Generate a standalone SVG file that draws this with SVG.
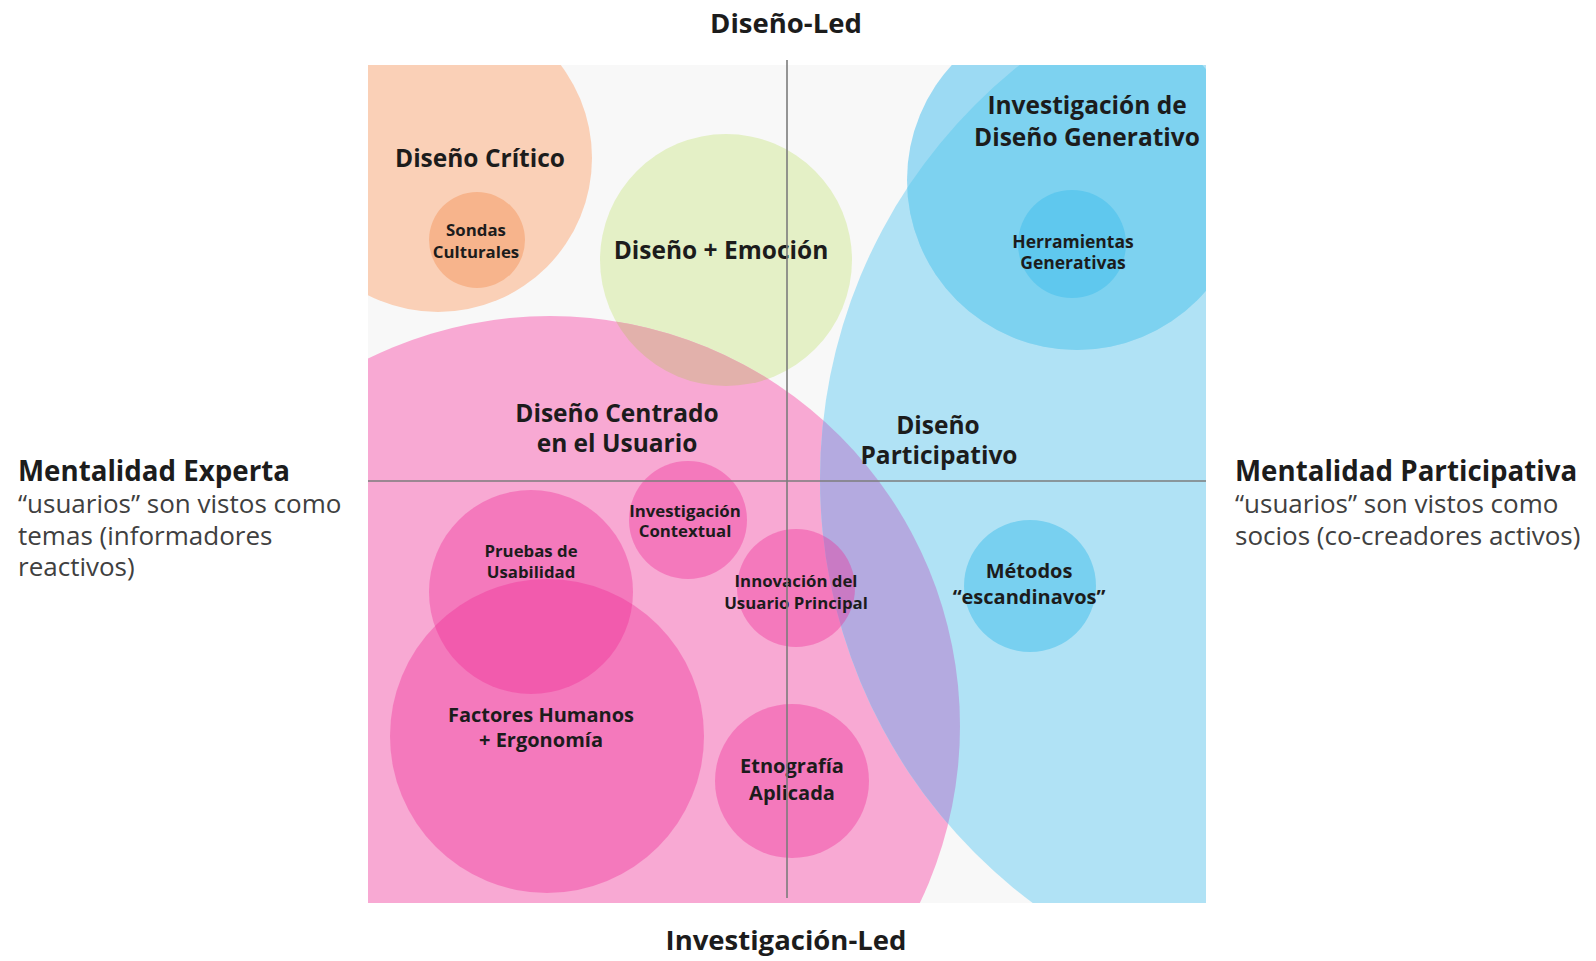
<svg xmlns="http://www.w3.org/2000/svg" width="1596" height="961" viewBox="0 0 1596 961">
<style>
text{font-family:"Open Sans","Noto Sans","DejaVu Sans",sans-serif;fill:#1c1c1c;text-anchor:middle}
.b{font-weight:700}
.t{font-size:27.5px;font-weight:700}
.h{font-size:27.7px;font-weight:700;text-anchor:start}
.sub{font-size:26px;font-weight:400;fill:#404040;text-anchor:start}
.L{font-size:24.5px}
.M{font-size:20px}
.S{font-size:16.8px}
.pk{fill:#f02896;fill-opacity:0.37}
.axis{stroke:#7c7c7c;stroke-width:1.6;fill:none}
</style>
<defs>
<clipPath id="plot"><rect x="368" y="65" width="838" height="838"/></clipPath>
<clipPath id="pinkC"><circle cx="550" cy="726" r="410"/></clipPath>
<clipPath id="lbC"><circle cx="1349" cy="479" r="529"/></clipPath>
</defs>
<rect width="1596" height="961" fill="#ffffff"/>
<g clip-path="url(#plot)">
<rect x="368" y="65" width="838" height="838" fill="#f8f8f8"/>
<g id="diseno-critico">
<circle cx="438" cy="158" r="154" fill="#fad0b7"/>
<text class="b L" x="480" y="167">Diseño Crítico</text>
</g>
<g id="sondas-culturales">
<circle cx="477" cy="240" r="48" fill="#f7b48c"/>
<text class="b S" x="476" y="236">Sondas</text>
<text class="b S" x="476" y="258">Culturales</text>
</g>
<g id="diseno-emocion">
<circle cx="726" cy="260" r="126" fill="#e4f0c6"/>
<text class="b L" x="721" y="259">Diseño + Emoción</text>
</g>
<g id="diseno-centrado-usuario">
<circle cx="550" cy="726" r="410" fill="#f8a9d3"/>
<circle cx="726" cy="260" r="126" fill="#e2b1ab" clip-path="url(#pinkC)"/>
<text class="b L" x="617" y="422">Diseño Centrado</text>
<text class="b L" x="617" y="452">en el Usuario</text>
</g>
<g id="diseno-participativo">
<circle cx="1349" cy="479" r="529" fill="#b0e2f5"/>
<circle cx="1349" cy="479" r="529" fill="#b4aae0" clip-path="url(#pinkC)"/>
<text class="b L" x="938" y="434">Diseño</text>
<text class="b L" x="939" y="464">Participativo</text>
</g>
<g id="investigacion-diseno-generativo">
<circle cx="1077" cy="180" r="170" fill="#9cdaf3"/>
<circle cx="1077" cy="180" r="170" fill="#7dd2f0" clip-path="url(#lbC)"/>
<text class="b L" x="1087" y="114">Investigación de</text>
<text class="b L" x="1087" y="146">Diseño Generativo</text>
</g>
<g id="herramientas-generativas">
<circle cx="1072" cy="244" r="54" fill="#5fc8ee"/>
<text class="b S" x="1073" y="248" style="font-size:17.5px">Herramientas</text>
<text class="b S" x="1073" y="269" style="font-size:17.5px">Generativas</text>
</g>
<g id="metodos-escandinavos">
<circle cx="1030" cy="586" r="66" fill="#78d0f0"/>
<text class="b M" x="1029" y="578">Métodos</text>
<text class="b M" x="1029" y="604">“escandinavos”</text>
</g>
<g id="pruebas-usabilidad">
<circle class="pk" cx="531" cy="592" r="102"/>
<text class="b S" x="531" y="557">Pruebas de</text>
<text class="b S" x="531" y="578">Usabilidad</text>
</g>
<g id="factores-humanos">
<circle class="pk" cx="547" cy="736" r="157"/>
<text class="b M" x="541" y="722">Factores Humanos</text>
<text class="b M" x="541" y="747">+ Ergonomía</text>
</g>
<g id="investigacion-contextual">
<circle class="pk" cx="688" cy="520" r="59"/>
<text class="b S" x="685" y="517">Investigación</text>
<text class="b S" x="685" y="537">Contextual</text>
</g>
<g id="innovacion-usuario-principal">
<circle class="pk" cx="796" cy="588" r="59"/>
<text class="b S" x="796" y="587">Innovación del</text>
<text class="b S" x="796" y="609">Usuario Principal</text>
</g>
<g id="etnografia-aplicada">
<circle class="pk" cx="792" cy="781" r="77"/>
<text class="b M" x="792" y="773">Etnografía</text>
<text class="b M" x="792" y="800">Aplicada</text>
</g>
</g>
<g id="axes">
<line class="axis" x1="787" y1="60" x2="787" y2="898"/>
<line class="axis" x1="368" y1="481" x2="1206" y2="481"/>
</g>
<g id="axis-labels">
<text class="t" x="786" y="33">Diseño-Led</text>
<text class="t" x="786" y="950">Investigación-Led</text>
<text class="h" x="18" y="481">Mentalidad Experta</text>
<text class="sub" x="18" y="513">“usuarios” son vistos como</text>
<text class="sub" x="18" y="545">temas (informadores</text>
<text class="sub" x="18" y="576">reactivos)</text>
<text class="h" x="1235" y="481">Mentalidad Participativa</text>
<text class="sub" x="1235" y="513">“usuarios” son vistos como</text>
<text class="sub" x="1235" y="545">socios (co-creadores activos)</text>
</g>
</svg>
